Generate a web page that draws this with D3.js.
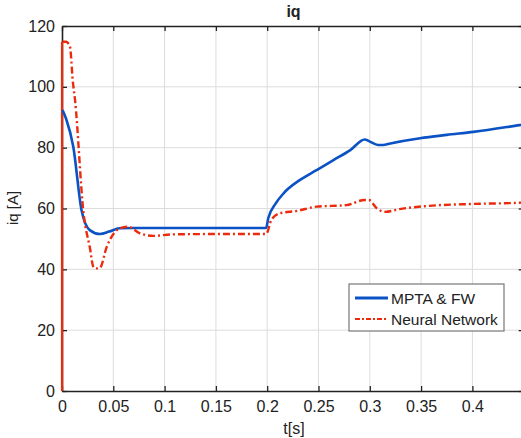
<!DOCTYPE html>
<html>
<head>
<meta charset="utf-8">
<script src="https://cdn.jsdelivr.net/npm/d3@7"></script>
<style>
  body { margin: 0; background: #fff; }
  svg text { font-family: "Liberation Sans", Arial, sans-serif; fill: #222; }
</style>
</head>
<body>
<div id="plot"></div>
<script>
// data: time [s], current [A]
var mptaT = [0, 0.0005, 0.004, 0.011, 0.019, 0.027, 0.037, 0.046, 0.056, 0.07, 0.1, 0.15, 0.199,
    0.201, 0.208, 0.216, 0.232, 0.248, 0.265, 0.281, 0.295, 0.300, 0.308, 0.313, 0.320, 0.349, 0.375, 0.401, 0.446, 0.45]
var mptaI = [0, 92.4, 89.5, 80.3, 59.5, 52.9, 51.6, 52.4, 53.5, 53.6, 53.6, 53.6, 53.6,
    56.8, 61.5, 65, 69.4, 72.6, 76, 79.2, 82.7, 82, 80.9, 80.9, 81.4, 83.1, 84.2, 85.2, 87.4, 87.6]

var nnT = [0, 0.0005, 0.004, 0.006, 0.0078, 0.0105, 0.0127, 0.021, 0.027, 0.031, 0.034, 0.037, 0.0436, 0.0565, 0.0646,
    0.076, 0.089, 0.108, 0.15, 0.199, 0.204, 0.212, 0.229, 0.248, 0.277, 0.295, 0.299, 0.307, 0.315, 0.329, 0.355, 0.401, 0.446, 0.45]
var nnI = [0, 114.8, 114.8, 114.3, 113.2, 102, 95.7, 58.4, 47.4, 40.5, 40.3, 40.5, 47.4, 53.5, 54,
    51.8, 51, 51.5, 51.6, 51.6, 56.2, 58.4, 59.2, 60.6, 61.1, 62.8, 62.8, 60, 58.9, 59.8, 60.8, 61.5, 61.9, 62]

var xTicks = [0, 0.05, 0.1, 0.15, 0.2, 0.25, 0.3, 0.35, 0.4]
var yTicks = [0, 20, 40, 60, 80, 100, 120]
var seriesNames = ["MPTA & FW", "Neural Network"]

var W = 521, H = 438
var margin = {top: 26, left: 62}
var plotW = 461.7, plotH = 365

var svg = d3.select("#plot").append("svg")
    .attr("width", W)
    .attr("height", H)

var g = svg.append("g").attr("transform", "translate(" + margin.left + "," + margin.top + ")")

var x = d3.scaleLinear().domain([0, 0.45]).range([0, plotW])
var y = d3.scaleLinear().domain([0, 120]).range([plotH, 0])

// grid
g.selectAll(".vgrid").data(xTicks.slice(1)).enter().append("line")
    .attr("x1", function (d) { return x(d) }).attr("x2", function (d) { return x(d) })
    .attr("y1", 0).attr("y2", plotH)
    .attr("stroke", "#dcdcdc").attr("stroke-width", 1)
g.selectAll(".hgrid").data(yTicks.slice(1, -1)).enter().append("line")
    .attr("x1", 0).attr("x2", plotW)
    .attr("y1", function (d) { return y(d) }).attr("y2", function (d) { return y(d) })
    .attr("stroke", "#dcdcdc").attr("stroke-width", 1)

// axes, MATLAB style box with inward ticks
function styleAxis(sel) {
    sel.select(".domain").attr("stroke", "#222").attr("stroke-width", 1.6)
    sel.selectAll(".tick line").attr("stroke", "#222").attr("stroke-width", 1.3)
    sel.selectAll("text").style("font-size", "16px").attr("fill", "#222")
}

g.append("g")
    .attr("transform", "translate(0," + plotH + ")")
    .call(d3.axisBottom(x).tickValues(xTicks).tickSizeInner(-5).tickSizeOuter(0).tickPadding(10)
        .tickFormat(function (d) { return String(d) }))
    .call(styleAxis)

g.append("g")
    .call(d3.axisTop(x).tickValues(xTicks).tickSizeInner(-5).tickSizeOuter(0).tickFormat(""))
    .call(styleAxis)

g.append("g")
    .call(d3.axisLeft(y).tickValues(yTicks).tickSizeInner(-5).tickSizeOuter(0).tickPadding(7))
    .call(styleAxis)

g.append("g")
    .attr("transform", "translate(" + plotW + ",0)")
    .call(d3.axisRight(y).tickValues(yTicks).tickSizeInner(-5).tickSizeOuter(0).tickFormat(""))
    .call(styleAxis)

// lines
var line = d3.line()
    .x(function (d) { return x(d[0]) })
    .y(function (d) { return y(d[1]) })
    .curve(d3.curveMonotoneX)

// start-up step at t=0 (both series jump from 0)
g.append("line")
    .attr("x1", x(0)).attr("x2", x(0))
    .attr("y1", y(0)).attr("y2", y(nnI[1]))
    .attr("stroke", "#ec2a0c").attr("stroke-width", 2.2)

g.append("path")
    .datum(mptaT.map(function (t, i) { return [t, mptaI[i]] }).slice(1))
    .attr("fill", "none")
    .attr("stroke", "#0b52c4")
    .attr("stroke-width", 2.6)
    .attr("d", line)

g.append("path")
    .datum(nnT.map(function (t, i) { return [t, nnI[i]] }).slice(1))
    .attr("fill", "none")
    .attr("stroke", "#ec2a0c")
    .attr("stroke-width", 2.4)
    .attr("stroke-dasharray", "7,3,2,3")
    .attr("d", line)

// title and labels
svg.append("text")
    .attr("x", margin.left + (521 - margin.left) / 2 + 2)
    .attr("y", 17)
    .attr("text-anchor", "middle")
    .style("font-size", "16px")
    .style("font-weight", "bold")
    .text("iq")

svg.append("text")
    .attr("x", 294)
    .attr("y", 434)
    .attr("text-anchor", "middle")
    .style("font-size", "16px")
    .text("t[s]")

svg.append("text")
    .attr("transform", "translate(18,208) rotate(-90)")
    .attr("text-anchor", "middle")
    .style("font-size", "15px")
    .text("iq [A]")

// legend
var leg = svg.append("g").attr("transform", "translate(349,284)")
leg.append("rect")
    .attr("width", 155).attr("height", 47)
    .attr("fill", "#fff").attr("stroke", "#777").attr("stroke-width", 1.2)

var legStyles = [
    {color: "#0b52c4", dash: null, w: 2.8},
    {color: "#ec2a0c", dash: "5,2,2,2", w: 2}
]
seriesNames.forEach(function (name, i) {
    var yy = 14 + i * 21
    leg.append("line")
        .attr("x1", 6).attr("x2", 39)
        .attr("y1", yy).attr("y2", yy)
        .attr("stroke", legStyles[i].color)
        .attr("stroke-width", legStyles[i].w)
        .attr("stroke-dasharray", legStyles[i].dash)
    leg.append("text")
        .attr("x", 42).attr("y", yy + 5.5)
        .style("font-size", "15.5px")
        .text(name)
})
</script>
</body>
</html>
